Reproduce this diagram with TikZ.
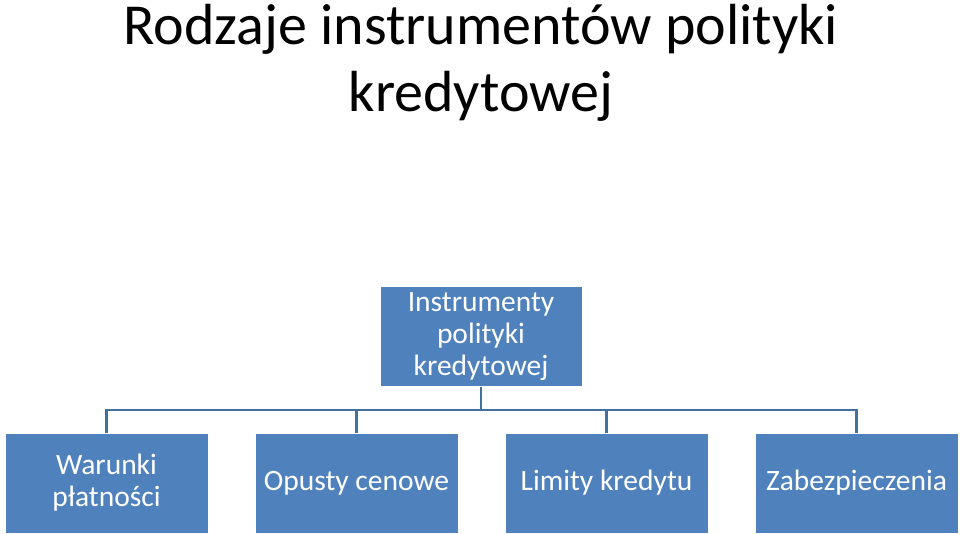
\documentclass[tikz,border=0pt]{standalone}
\usepackage{fontspec}
\setmainfont{Carlito}
\definecolor{boxblue}{HTML}{4F81BD}
\definecolor{linkblue}{HTML}{41719C}
\begin{document}
\begin{tikzpicture}[x=1pt,y=-1pt,
  box/.style={draw=white,line width=1pt,fill=boxblue,text=white,align=center,minimum width=203pt,minimum height=100pt,inner sep=2pt,font=\fontsize{29.5}{32}\selectfont},
  link/.style={draw=linkblue,line width=2.5pt}]
\useasboundingbox (0,0) rectangle (960,534);
\node[font=\fontsize{58}{67}\selectfont,align=center] (title) at (481,63) {Rodzaje instrumentów polityki\\kredytowej};
\node[box,minimum width=202pt,minimum height=99pt] (top) at (481,336.5) {Instrumenty\\polityki\\kredytowej};
\node[box] (b1) at (106.5,483) {Warunki\\płatności};
\node[box] (b2) at (356.5,483) {Opusty cenowe};
\node[box] (b3) at (606.5,483) {Limity kredytu};
\node[box] (b4) at (856.5,483) {Zabezpieczenia};
\coordinate (j) at (481,410);
\draw[link] (top.south) -- (j);
\draw[link] (b1.north) |- (j) -| (b4.north);
\draw[link] (b2.north) -- (b2.north |- j);
\draw[link] (b3.north) -- (b3.north |- j);
\end{tikzpicture}
\end{document}
